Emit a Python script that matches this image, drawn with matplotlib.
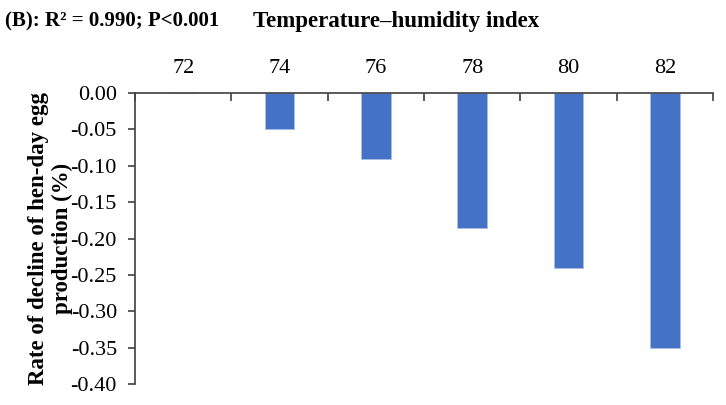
import numpy as np
import matplotlib.pyplot as plt

plt.rcParams['font.family'] = ['Liberation Serif', 'DejaVu Serif']

# Data
thi = ['72', '74', '76', '78', '80', '82']
decline = [0.0, -0.05, -0.09, -0.185, -0.24, -0.35]
yticks = [0.00, -0.05, -0.10, -0.15, -0.20, -0.25, -0.30, -0.35, -0.40]

fig = plt.figure(figsize=(7.26, 4.05), dpi=100)
ax = fig.add_axes([0.186, 0.052, 0.796, 0.718])

x = np.arange(len(thi))
ax.bar(x, decline, width=0.31, color='#4472C4', edgecolor='#A9BFE6', linewidth=0.6, zorder=2)

ax.set_xlim(-0.5, len(thi) - 0.5)
ax.set_ylim(-0.40, 0.0)
ax.set_yticks(yticks)
ax.set_yticklabels(['%.2f' % v for v in yticks], fontsize=16)

# category labels on top, ticks at category boundaries
ax.xaxis.set_ticks_position('top')
ax.set_xticks(x)
ax.set_xticklabels(thi, fontsize=16)
ax.tick_params(axis='x', which='major', length=0, pad=11)
ax.set_xticks(np.arange(len(thi) + 1) - 0.5, minor=True)
ax.tick_params(axis='x', which='minor', direction='in', length=6, width=1.2, color='#404040', top=True)
ax.tick_params(axis='y', direction='out', length=5, width=1.2, color='#404040', pad=8)

for s in ['bottom', 'right']:
    ax.spines[s].set_visible(False)
for s in ['top', 'left']:
    ax.spines[s].set_color('#404040')
    ax.spines[s].set_linewidth(1.2)

ax.set_ylabel('Rate of decline of hen-day egg\nproduction (%)', fontsize=16.5, fontweight='bold', labelpad=-2, linespacing=1.2)

fig.text(0.007, 0.947, '(B): R\u00b2 = 0.990; P<0.001', fontsize=15, fontweight='bold', va='center')
fig.text(0.545, 0.947, 'Temperature\u2013humidity index', fontsize=16.5, fontweight='bold', va='center', ha='center')

fig.savefig('out.png', dpi=100)
